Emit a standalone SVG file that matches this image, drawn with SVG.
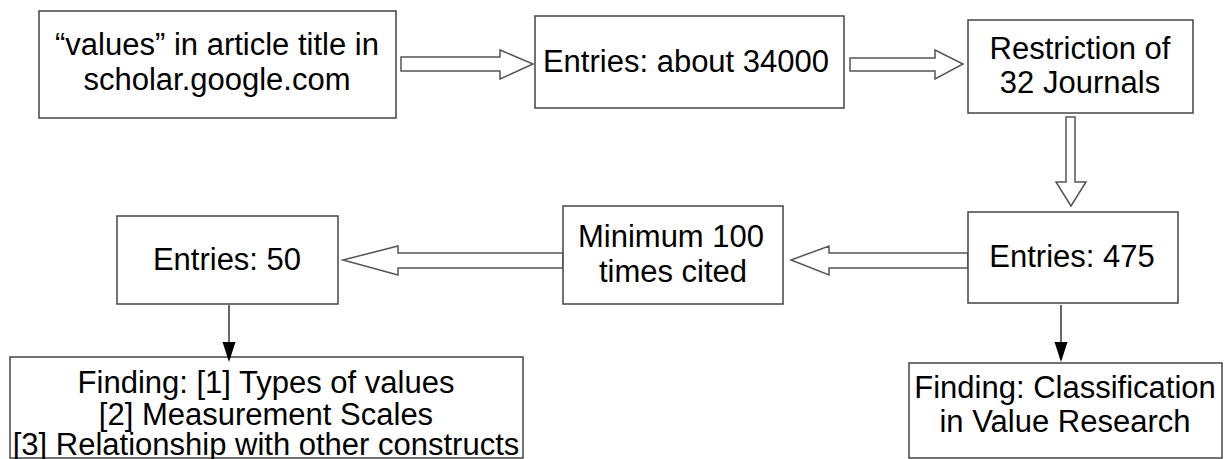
<svg xmlns="http://www.w3.org/2000/svg" width="1224" height="459" viewBox="0 0 1224 459">
<defs>
<style>
.box{fill:#fff;stroke:#444;stroke-width:1.5}
.t{font-family:"Liberation Sans",Arial,sans-serif;font-size:31px;fill:#000;text-anchor:middle}
.blk{fill:#fff;stroke:#555;stroke-width:1.5;stroke-linejoin:miter}
.thin{stroke:#333;stroke-width:1.5;fill:none}
.head{fill:#000;stroke:none}
</style>
</defs>
<rect width="1224" height="459" fill="#fff"/>
<g id="connectors">
<polygon class="blk" points="401,57 500,57 500,50 533,64 500,79 500,71 401,71"/>
<polygon class="blk" points="850,58 935,58 935,50 963,64 935,79 935,71 850,71"/>
<polygon class="blk" points="1066,117 1075,117 1075,182 1086,182 1071,206 1056,182 1066,182"/>
<polygon class="blk" points="968,253 829,253 829,246 791,260 829,275 829,268 968,268"/>
<polygon class="blk" points="563,253 398,253 398,246 343,260 398,275 398,268 563,268"/>
</g>
<g id="n1">
<rect class="box" x="39" y="11" width="357" height="107"/>
<text class="t" x="217" y="55">“values” in article title in</text>
<text class="t" x="217" y="90">scholar.google.com</text>
</g>
<g id="n2">
<rect class="box" x="535" y="16" width="309" height="92"/>
<text class="t" x="686" y="72">Entries: about 34000</text>
</g>
<g id="n3">
<rect class="box" x="968" y="20" width="225" height="93"/>
<text class="t" x="1080" y="59">Restriction of</text>
<text class="t" x="1080" y="93">32 Journals</text>
</g>
<g id="n4">
<rect class="box" x="968" y="212" width="210" height="91"/>
<text class="t" x="1072" y="267">Entries: 475</text>
</g>
<g id="n5">
<rect class="box" x="563" y="206" width="220" height="98"/>
<text class="t" x="671" y="247">Minimum 100</text>
<text class="t" x="673" y="282">times cited</text>
</g>
<g id="n6">
<rect class="box" x="117" y="216" width="221" height="88"/>
<text class="t" x="227" y="270">Entries: 50</text>
</g>
<g id="n7">
<rect class="box" x="10" y="357" width="513" height="101"/>
<text class="t" x="266" y="393">Finding: [1] Types of values</text>
<text class="t" x="266" y="425">[2] Measurement Scales</text>
<text class="t" x="266" y="455">[3] Relationship with other constructs</text>
</g>
<g id="n8">
<rect class="box" x="909" y="363" width="313" height="95"/>
<text class="t" x="1065" y="398">Finding: Classification</text>
<text class="t" x="1065" y="432">in Value Research</text>
</g>
<g id="thin-connectors">
<line class="thin" x1="229" y1="305" x2="229" y2="343"/>
<polygon class="head" points="222.5,342 235.5,342 229,362"/>
<line class="thin" x1="1061" y1="305" x2="1061" y2="343"/>
<polygon class="head" points="1054.5,342 1067.5,342 1061,362"/>
</g>
</svg>
